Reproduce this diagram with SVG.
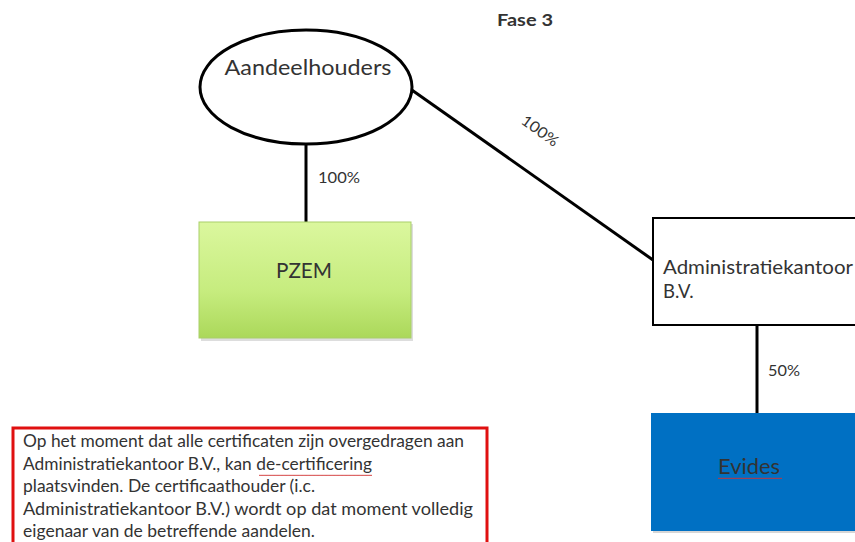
<svg xmlns="http://www.w3.org/2000/svg" width="855" height="542" viewBox="0 0 855 542">
<style>
.t{font-family:Lato,"Open Sans","Liberation Sans",sans-serif;fill:#333}
.lbl{font-family:Lato,"Open Sans","Liberation Sans",sans-serif;font-size:15px;fill:#333}
.ln{stroke:#000;stroke-width:3;fill:none}
</style>
<defs>
<linearGradient id="g" x1="0" y1="0" x2="0" y2="1">
<stop offset="0" stop-color="#dbf79e"/>
<stop offset="0.6" stop-color="#c6ec7e"/>
<stop offset="1" stop-color="#abd85a"/>
</linearGradient>
<pattern id="wave" width="4" height="3" patternUnits="userSpaceOnUse">
<path d="M0 2 L1 0.8 L2 2 L3 0.8 L4 2" stroke="#d03030" stroke-width="0.8" fill="none"/>
</pattern>
</defs>
<rect width="855" height="542" fill="#fff"/>
<text class="t" x="525" y="26" font-size="17" font-weight="bold" text-anchor="middle" fill="#111" textLength="56" lengthAdjust="spacingAndGlyphs">Fase 3</text>
<g id="connectors">
<line class="ln" x1="306" y1="144" x2="306" y2="222"/>
<line class="ln" x1="409" y1="88" x2="653" y2="260"/>
<line class="ln" x1="757" y1="325" x2="757" y2="413"/>
<text class="lbl" x="318" y="183" textLength="42" lengthAdjust="spacingAndGlyphs">100%</text>
<text class="lbl" x="540" y="136" text-anchor="middle" transform="rotate(36 540 131)" textLength="42" lengthAdjust="spacingAndGlyphs">100%</text>
<text class="lbl" x="768" y="376" textLength="32" lengthAdjust="spacingAndGlyphs">50%</text>
</g>
<g id="aandeelhouders">
<ellipse cx="306" cy="87" rx="106" ry="57" fill="#fff" stroke="#000" stroke-width="3"/>
<text class="t" x="308" y="75" font-size="22" text-anchor="middle" textLength="167" lengthAdjust="spacingAndGlyphs">Aandeelhouders</text>
</g>
<g id="pzem">
<rect x="201" y="224" width="212" height="117" fill="#bbb" opacity="0.5"/>
<rect x="199" y="222" width="212" height="116" fill="url(#g)" stroke="#a9cf6a" stroke-width="1"/>
<text class="t" x="304" y="278" font-size="21" text-anchor="middle" fill="#1f2e08" textLength="56" lengthAdjust="spacingAndGlyphs">PZEM</text>
</g>
<g id="administratiekantoor">
<rect x="653" y="218" width="210" height="107" fill="#fff" stroke="#000" stroke-width="2"/>
<text class="t" x="663" y="274" font-size="18.5" textLength="190" lengthAdjust="spacingAndGlyphs">Administratiekantoor</text>
<text class="t" x="663" y="298" font-size="18.5">B.V.</text>
</g>
<g id="evides">
<rect x="653" y="415" width="210" height="118" fill="#999" opacity="0.4"/>
<rect x="651" y="413" width="210" height="118" fill="#0070c3"/>
<text class="t" x="749" y="474" font-size="21" text-anchor="middle" fill="#152750" textLength="62" lengthAdjust="spacingAndGlyphs">Evides</text>
<rect x="718" y="477" width="64" height="3" fill="url(#wave)"/>
</g>
<g id="note">
<rect x="13" y="428" width="474" height="130" fill="#fff" stroke="#e01010" stroke-width="3"/>
<text class="t" font-size="17" fill="#222">
<tspan x="23" y="447" textLength="441" lengthAdjust="spacingAndGlyphs">Op het moment dat alle certificaten zijn overgedragen aan</tspan>
<tspan x="23" y="470" textLength="349" lengthAdjust="spacingAndGlyphs">Administratiekantoor B.V., kan de-certificering</tspan>
<tspan x="23" y="492" textLength="292" lengthAdjust="spacingAndGlyphs">plaatsvinden. De certificaathouder (i.c.</tspan>
<tspan x="23" y="515" textLength="450" lengthAdjust="spacingAndGlyphs">Administratiekantoor B.V.) wordt op dat moment volledig</tspan>
<tspan x="23" y="537" textLength="292" lengthAdjust="spacingAndGlyphs">eigenaar van de betreffende aandelen.</tspan>
</text>
<rect x="259" y="474" width="113" height="3" fill="url(#wave)"/>
</g>
</svg>
